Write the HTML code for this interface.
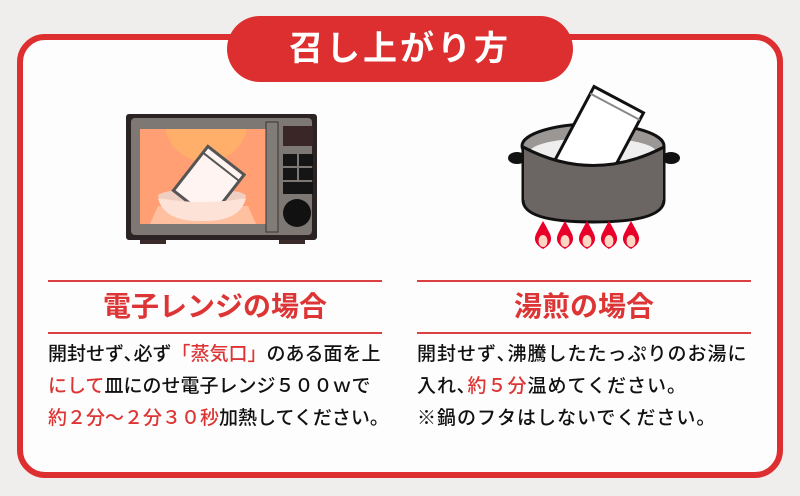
<!DOCTYPE html>
<html><head><meta charset="utf-8"><style>
*{margin:0;padding:0;box-sizing:border-box}
body{width:800px;height:496px;background:#efeeec;position:relative;overflow:hidden;font-family:"Liberation Sans","Noto Sans CJK JP",sans-serif}
.frame{position:absolute;left:17px;top:34px;width:766px;height:444px;border:6px solid #dd2f2f;border-radius:28px;background:#fdfdfd}
.pill{position:absolute;left:227px;top:16px;width:346px;height:66px;border-radius:33px;background:#dd2f2f;color:#fff;font-size:34px;font-weight:bold;text-align:center;line-height:66px;letter-spacing:3px}
.line{position:absolute;height:2px;background:#dd4040}
.h{position:absolute;color:#dd3535;font-size:28px;font-weight:bold;text-align:center;line-height:40px}
.t{position:absolute;font-size:19px;line-height:32px;color:#111;white-space:nowrap;font-weight:500}
.r{color:#dd3535}
</style></head><body>
<div class="frame"></div>
<div class="pill">召し上がり方</div>

<svg style="position:absolute;left:0;top:0" width="800" height="496">
 <!-- microwave -->
 <rect x="140" y="238" width="26" height="6" fill="#3a2a2a"/>
 <rect x="279" y="238" width="26" height="6" fill="#3a2a2a"/>
 <rect x="126" y="114" width="191" height="126" rx="3" fill="#2c2424"/>
 <rect x="131" y="118" width="181" height="117" rx="4" fill="#7d7873"/>
 <rect x="140" y="129" width="126" height="95" fill="#ff9f73"/>
 <path d="M165 129 A42 42 0 0 0 247 129 Z" fill="#ffaf6a"/>
 <polygon points="150,224 256,224 248,206 158,206" fill="#ffc0a0"/>
 <rect x="266" y="122" width="12" height="110" fill="#817c77" stroke="#3a3533" stroke-width="1"/>
 <rect x="283" y="126" width="30" height="20" fill="#3a2626"/>
 <rect x="283" y="154" width="14" height="12" fill="#151515"/><rect x="299" y="154" width="14" height="12" fill="#151515"/>
 <rect x="283" y="168" width="14" height="12" fill="#151515"/><rect x="299" y="168" width="14" height="12" fill="#151515"/>
 <rect x="283" y="182" width="30" height="12" fill="#151515"/>
 <circle cx="297" cy="213" r="14" fill="#111"/>
 <ellipse cx="202" cy="196" rx="44" ry="7" fill="#f0cfc3"/>
 <g transform="rotate(38 208 182)"><rect x="186" y="154" width="46" height="56" fill="#fff4f1" stroke="#555" stroke-width="3"/><line x1="186" y1="162" x2="232" y2="162" stroke="#555" stroke-width="2"/></g>
 <path d="M158 198 Q202 206 246 198 Q240 222 202 221 Q164 222 158 198Z" fill="#fde2d8"/>
 <!-- pot -->
 <ellipse cx="517" cy="158" rx="9" ry="6" fill="#111"/>
 <ellipse cx="671" cy="158" rx="9" ry="6" fill="#111"/>
 <path d="M523 148 L523 200 Q523 222 593 222 Q664 222 664 200 L664 148Z" fill="#6b6663" stroke="#111" stroke-width="3"/>
 <ellipse cx="593" cy="146" rx="71" ry="22" fill="#9a9795" stroke="#111" stroke-width="3"/>
 <ellipse cx="593" cy="152" rx="63" ry="14" fill="#eee"/>
 <g transform="rotate(28 600 135)"><rect x="572" y="95" width="56" height="84" fill="#fff" stroke="#111" stroke-width="3"/><line x1="572" y1="103" x2="628" y2="103" stroke="#888" stroke-width="2"/></g>
 <path d="M524 147 Q593 186 663 147 L663 200 L524 200Z" fill="#6b6663"/>
 <path d="M523 147 Q593 184 664 147" fill="none" stroke="#111" stroke-width="3"/>
 <g fill="#e8002a">
  <path d="M543 249 Q532 243 536 234 Q540 226 543 221 Q546 226 550 234 Q554 243 543 249Z"/>
  <path d="M565 249 Q554 243 558 234 Q562 226 565 221 Q568 226 572 234 Q576 243 565 249Z"/>
  <path d="M587 249 Q576 243 580 234 Q584 226 587 221 Q590 226 594 234 Q598 243 587 249Z"/>
  <path d="M609 249 Q598 243 602 234 Q606 226 609 221 Q612 226 616 234 Q620 243 609 249Z"/>
  <path d="M631 249 Q620 243 624 234 Q628 226 631 221 Q634 226 638 234 Q642 243 631 249Z"/>
 </g>
 <g fill="#fdd7c4"><ellipse cx="543" cy="241" rx="4.5" ry="6"/><ellipse cx="565" cy="241" rx="4.5" ry="6"/><ellipse cx="587" cy="241" rx="4.5" ry="6"/><ellipse cx="609" cy="241" rx="4.5" ry="6"/><ellipse cx="631" cy="241" rx="4.5" ry="6"/></g>
</svg>

<div class="line" style="left:48px;top:280px;width:334px"></div>
<div class="line" style="left:48px;top:332px;width:334px"></div>
<div class="h" style="left:48px;top:287px;width:334px">電子レンジの場合</div>
<div class="t" style="left:48px;top:339px">開封せず､必ず<span class="r">「蒸気口」</span>のある面を上<br><span class="r">にして</span>皿にのせ電子レンジ５００ｗで<br><span class="r">約２分～２分３０秒</span>加熱してください。</div>

<div class="line" style="left:417px;top:280px;width:334px"></div>
<div class="line" style="left:417px;top:332px;width:334px"></div>
<div class="h" style="left:417px;top:287px;width:334px">湯煎の場合</div>
<div class="t" style="left:417px;top:339px;letter-spacing:1px">開封せず､沸騰したたっぷりのお湯に<br>入れ､<span class="r">約５分</span>温めてください。<br>※鍋のフタはしないでください。</div>
</body></html>
